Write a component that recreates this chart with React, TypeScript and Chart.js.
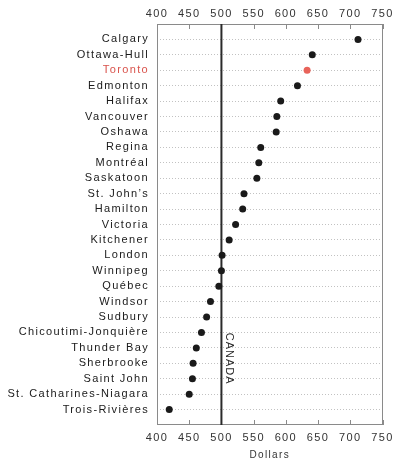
import React, { useEffect, useRef } from 'react';
import { Chart, registerables } from 'chart.js';

Chart.register(...registerables);

const cities = [
  'Calgary', 'Ottawa-Hull', 'Toronto', 'Edmonton', 'Halifax', 'Vancouver', 'Oshawa',
  'Regina', 'Montréal', 'Saskatoon', 'St. John’s', 'Hamilton', 'Victoria', 'Kitchener',
  'London', 'Winnipeg', 'Québec', 'Windsor', 'Sudbury', 'Chicoutimi-Jonquière',
  'Thunder Bay', 'Sherbrooke', 'Saint John', 'St. Catharines-Niagara', 'Trois-Rivières',
];
const dollars = [
  712, 641, 633, 618, 592, 586, 585,
  561, 558, 555, 535, 533, 522, 512,
  501, 500, 496, 483, 477, 469,
  461, 456, 455, 450, 419,
];
const highlightCity = 'Toronto';
const canadaValue = 500;
const canadaLabel = 'CANADA';
const canadaLabelRow = 20.7;
const xMin = 400;
const xMax = 750;
const xStep = 50;
const xTitle = 'Dollars';

const INK = '#1a1a1a';
const RED_TEXT = '#d9534c';
const RED_DOT = '#e8635a';
const FONT = "'Liberation Sans', Arial, sans-serif";

const App: React.FC = () => {
  const ref = useRef<HTMLCanvasElement | null>(null);

  useEffect(() => {
    if (!ref.current) return;
    const hi = cities.indexOf(highlightCity);

    const spacing = {
      id: 'spacing',
      beforeDraw(chart: any) {
        chart.ctx.letterSpacing = '1.35px';
      },
    };

    const frame = {
      id: 'frame',
      beforeDatasetsDraw(chart: any) {
        const { ctx, chartArea: a, scales } = chart;
        ctx.save();
        ctx.strokeStyle = '#8a8a8a';
        ctx.lineWidth = 1;
        ctx.strokeRect(Math.round(a.left) + 0.5, Math.round(a.top) + 0.5,
          Math.round(a.right - a.left) - 1, Math.round(a.bottom - a.top) - 1);
        ctx.beginPath();
        scales.x.ticks.forEach((t: any) => {
          const px = Math.round(scales.x.getPixelForValue(t.value)) + 0.5;
          ctx.moveTo(px, a.top);
          ctx.lineTo(px, a.top + 5);
          ctx.moveTo(px, a.bottom);
          ctx.lineTo(px, a.bottom - 5);
        });
        ctx.stroke();
        ctx.restore();
      },
      afterDraw(chart: any) {
        const { ctx, scales } = chart;
        ctx.save();
        ctx.letterSpacing = '1px';
        ctx.fillStyle = '#2a2a2a';
        ctx.font = `11px ${FONT}`;
        ctx.translate(scales.x.getPixelForValue(canadaValue) + 8, scales.y.getPixelForValue(canadaLabelRow));
        ctx.rotate(Math.PI / 2);
        ctx.textAlign = 'center';
        ctx.textBaseline = 'middle';
        ctx.fillText(canadaLabel, 0, 0);
        ctx.restore();
      },
    };

    const xCommon = (pos: 'top' | 'bottom') => ({
      type: 'linear' as const,
      position: pos,
      min: xMin,
      max: xMax,
      ticks: {
        stepSize: xStep,
        color: '#333',
        font: { family: FONT, size: 11 },
        padding: pos === 'bottom' ? 6 : 3,
        maxRotation: 0,
      },
      grid: { drawOnChartArea: false, drawTicks: false },
      border: { display: false },
    });

    const chart = new Chart(ref.current, {
      type: 'scatter',
      data: {
        datasets: [
          {
            type: 'scatter',
            data: dollars.map((v, i) => ({ x: v, y: i })),
            backgroundColor: dollars.map((_, i) => (i === hi ? RED_DOT : INK)),
            borderWidth: 0,
            pointRadius: 3.5,
            order: 0,
            xAxisID: 'x',
            yAxisID: 'y',
          },
          {
            type: 'line',
            data: [{ x: canadaValue, y: -1 }, { x: canadaValue, y: cities.length }],
            borderColor: '#2a2a2a',
            borderWidth: 2,
            pointRadius: 0,
            order: 1,
            xAxisID: 'x',
            yAxisID: 'y',
          } as any,
        ],
      },
      options: {
        animation: false,
        responsive: true,
        maintainAspectRatio: false,
        layout: { padding: { left: 0, right: 16.5, top: 0, bottom: 0 } },
        plugins: { legend: { display: false }, tooltip: { enabled: false } },
        scales: {
          x: {
            ...xCommon('bottom'),
            title: {
              display: true,
              text: xTitle,
              color: '#333',
              font: { family: FONT, size: 10 },
              padding: { top: 0, bottom: 4 },
            },
            afterFit: (s: any) => { s.height = 40; },
          },
          x2: {
            ...xCommon('top'),
            afterFit: (s: any) => { s.height = 24; },
          },
          y: {
            type: 'linear',
            reverse: true,
            min: -1,
            max: cities.length,
            afterBuildTicks: (s: any) => {
              s.ticks = cities.map((_, i) => ({ value: i }));
            },
            ticks: {
              autoSkip: false,
              padding: 8,
              color: (c: any) => (c.tick && c.tick.value === hi ? RED_TEXT : '#1a1a1a'),
              font: { family: FONT, size: 11 },
              callback: (v: any) => cities[v] ?? '',
            },
            grid: {
              drawTicks: false,
              color: '#c2c2c2',
              lineWidth: 1,
            },
            border: { display: false, dash: [1, 2] },
            afterFit: (s: any) => { s.width = 157; },
          },
        },
      } as any,
      plugins: [spacing, frame],
    });
    return () => chart.destroy();
  }, []);

  return (
    <div style={{ position: 'absolute', left: 0, top: 0, width: 399, height: 465, background: '#fff' }}>
      <canvas ref={ref} />
    </div>
  );
};

export default App;
